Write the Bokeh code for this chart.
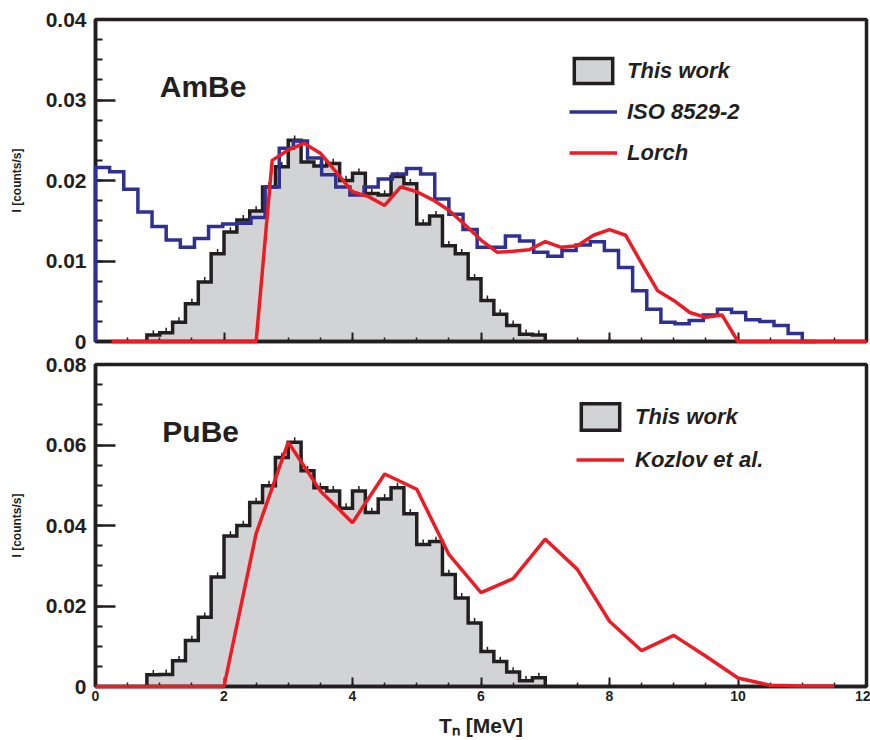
import numpy as np
from bokeh.plotting import figure
from bokeh.layouts import column
from bokeh.models import (Range1d, FixedTicker, CustomJSTickFormatter, Legend,
                          LegendItem, Label)
from bokeh.embed import file_html
from bokeh.resources import INLINE

# ---------------- data ----------------
# AmBe, "This work": histogram, 0.2 MeV bins starting at 0.8 MeV
amb_this_lo = 0.8
amb_this_w = 0.2
amb_this = [0.0008, 0.0011, 0.0024, 0.0047, 0.0074, 0.0109, 0.0136, 0.0151,
            0.0162, 0.0192, 0.0217, 0.0250, 0.0223, 0.0218, 0.0221, 0.0200,
            0.0209, 0.0184, 0.0182, 0.0205, 0.0196, 0.0146, 0.0156, 0.0119,
            0.0109, 0.0078, 0.0051, 0.0034, 0.0020, 0.0009, 0.0008]
amb_err = 0.0006

# AmBe, ISO 8529-2: histogram, 0.22 MeV bins starting at 0
iso_lo = 0.0
iso_w = 0.22
iso = [0.0216, 0.0211, 0.0189, 0.0161, 0.0143, 0.0126, 0.0117, 0.0128,
       0.0143, 0.0146, 0.0147, 0.0154, 0.0192, 0.0240, 0.0249, 0.0228,
       0.0207, 0.0192, 0.0182, 0.0192, 0.0202, 0.0208, 0.0215, 0.0208,
       0.0177, 0.0158, 0.0139, 0.0117, 0.0117, 0.0131, 0.0125, 0.0111,
       0.0106, 0.0113, 0.0120, 0.0124, 0.0113, 0.0092, 0.0063, 0.0040,
       0.0024, 0.0022, 0.0026, 0.0033, 0.0040, 0.0036, 0.0027, 0.0025,
       0.0020, 0.0010, 0.0000]

# AmBe, Lorch: points
lorch_e = [0.25, 0.5, 0.75, 1.0, 1.25, 1.5, 1.75, 2.0, 2.25, 2.5,
           2.75, 3.0, 3.25, 3.5, 3.75, 4.0, 4.25, 4.5, 4.75, 5.0,
           5.25, 5.5, 5.75, 6.0, 6.25, 6.5, 6.75, 7.0, 7.25, 7.5,
           7.75, 8.0, 8.25, 8.5, 8.75, 9.0, 9.25, 9.5, 9.75, 10.0,
           10.25, 10.5, 10.75, 11.0, 11.25, 11.5, 11.75, 12.0]
lorch = [0, 0, 0, 0, 0, 0, 0, 0, 0, 0,
         0.0225, 0.0238, 0.0246, 0.0234, 0.0210, 0.0186, 0.0180, 0.0169, 0.0192, 0.0186,
         0.0176, 0.0163, 0.0145, 0.0126, 0.0111, 0.0112, 0.0114, 0.0124, 0.0117, 0.0119,
         0.0132, 0.0139, 0.0132, 0.0097, 0.0063, 0.0051, 0.0036, 0.0030, 0.0033, 0,
         0, 0, 0, 0, 0, 0, 0, 0]

# PuBe, "This work": histogram, 0.2 MeV bins starting at 0.8 MeV
pub_this_lo = 0.8
pub_this_w = 0.2
pub_this = [0.0029, 0.0030, 0.0064, 0.0114, 0.0172, 0.0272, 0.0374, 0.0400,
            0.0457, 0.0499, 0.0569, 0.0607, 0.0536, 0.0494, 0.0486, 0.0443,
            0.0486, 0.0432, 0.0466, 0.0494, 0.0429, 0.0353, 0.0360, 0.0278,
            0.0220, 0.0158, 0.0087, 0.0062, 0.0036, 0.0014, 0.0022]
pub_err = 0.0012

# PuBe, Kozlov et al.: points
kozlov_e = [0, 0.5, 1.0, 1.5, 2.0, 2.5, 3.0, 3.5, 4.0, 4.5, 5.0, 5.5,
            6.0, 6.5, 7.0, 7.5, 8.0, 8.5, 9.0, 9.5, 10.0, 10.5, 11.0, 11.5]
kozlov = [0, 0, 0, 0, 0, 0.0380, 0.0607, 0.0486, 0.0407, 0.0528, 0.0490, 0.0328,
          0.0233, 0.0268, 0.0366, 0.0291, 0.0162, 0.0089, 0.0127, 0.0075, 0.0021,
          0.0003, 0.0001, 0.0001]

x_ticks = [0, 2, 4, 6, 8, 10, 12]
top_y_ticks = [0, 0.01, 0.02, 0.03, 0.04]
bot_y_ticks = [0, 0.02, 0.04, 0.06, 0.08]

# ---------------- styling ----------------
FONT = "'Liberation Sans', Arial, sans-serif"
NARROW = "'Liberation Sans Narrow', 'Liberation Sans', Arial, sans-serif"
GRAY = "#d1d3d4"
BLUE = "#2e3192"
RED = "#ed1c24"
BLACK = "#231f20"


def outline(lo, w, vals):
    vals = np.asarray(vals, dtype=float)
    edges = lo + w * np.arange(len(vals) + 1)
    xs = np.repeat(edges, 2)
    ys = np.concatenate([[0.0], np.repeat(vals, 2), [0.0]])
    return xs, ys


def centers(lo, w, vals):
    vals = np.asarray(vals, dtype=float)
    return lo + w * (np.arange(len(vals)) + 0.5), vals


def make_fig(ymax, yticks, yminor, top, bottom, show_xlabels):
    p = figure(frame_width=771, frame_height=322,
               x_range=Range1d(0, 12), y_range=Range1d(0, ymax),
               output_backend="svg", toolbar_location=None,
               min_border_left=95, min_border_right=4,
               min_border_top=top, min_border_bottom=bottom)
    p.xgrid.visible = False
    p.ygrid.visible = False
    p.outline_line_color = BLACK
    p.outline_line_width = 3.5
    p.outline_line_alpha = 1
    p.background_fill_color = "white"
    p.border_fill_color = "white"

    xa = p.xaxis[0]
    xa.ticker = FixedTicker(ticks=x_ticks, minor_ticks=list(np.arange(0, 12.01, 0.5)))
    xa.axis_line_width = 3.5
    xa.axis_line_color = BLACK
    xa.major_tick_in = 9
    xa.major_tick_out = 0
    xa.minor_tick_in = 4
    xa.minor_tick_out = 0
    xa.major_tick_line_width = 2
    xa.minor_tick_line_width = 1.5
    xa.major_tick_line_color = BLACK
    xa.minor_tick_line_color = BLACK
    if show_xlabels:
        xa.major_label_text_font = NARROW
        xa.major_label_text_font_style = "bold"
        xa.major_label_text_font_size = "14px"
        xa.major_label_text_color = BLACK
        xa.major_label_standoff = 4
        xa.axis_label = "T\u2099 [MeV]"
        xa.axis_label_text_font = FONT
        xa.axis_label_text_font_style = "bold"
        xa.axis_label_text_font_size = "21px"
        xa.axis_label_text_color = BLACK
        xa.axis_label_standoff = 10
    else:
        xa.formatter = CustomJSTickFormatter(code="return '';")
        xa.major_label_standoff = 0

    ya = p.yaxis[0]
    ya.ticker = FixedTicker(ticks=yticks, minor_ticks=yminor)
    ya.formatter = CustomJSTickFormatter(code="return tick == 0 ? '0' : tick.toFixed(2);")
    ya.axis_line_width = 3.5
    ya.axis_line_color = BLACK
    ya.major_tick_in = 20
    ya.major_tick_out = 0
    ya.minor_tick_in = 7
    ya.minor_tick_out = 0
    ya.major_tick_line_width = 2.5
    ya.minor_tick_line_width = 2
    ya.major_tick_line_color = BLACK
    ya.minor_tick_line_color = BLACK
    ya.major_label_text_font = FONT
    ya.major_label_text_font_style = "bold"
    ya.major_label_text_font_size = "21px"
    ya.major_label_text_color = BLACK
    ya.major_label_standoff = 9
    ya.axis_label = "I [counts/s]"
    ya.axis_label_text_font = FONT
    ya.axis_label_text_font_style = "bold"
    ya.axis_label_text_font_size = "12px"
    ya.axis_label_text_color = BLACK
    ya.axis_label_standoff = 19
    return p


def style_legend(leg, gh, sp, loc, standoff):
    leg.location = loc
    leg.glyph_width = 48
    leg.glyph_height = gh
    leg.spacing = sp
    leg.padding = 0
    leg.margin = 0
    leg.label_standoff = standoff
    leg.border_line_alpha = 0
    leg.background_fill_alpha = 0
    leg.label_text_font = FONT
    leg.label_text_font_style = "bold italic"
    leg.label_text_font_size = "22px"
    leg.label_text_color = BLACK


# ---------------- top panel: AmBe ----------------
p1 = make_fig(0.04, top_y_ticks, list(np.arange(0, 0.0401, 0.0025)), 19, 12, False)

xs, ys = outline(amb_this_lo, amb_this_w, amb_this)
r_this1 = p1.patch(xs, ys, fill_color=GRAY, line_color=BLACK, line_width=3.5,
                   line_join="miter")
cx, cy = centers(amb_this_lo, amb_this_w, amb_this)
p1.segment(x0=cx, y0=cy, x1=cx, y1=cy + amb_err, line_color=BLACK, line_width=1.5)

xs, ys = outline(iso_lo, iso_w, iso)
r_iso = p1.line(xs, ys, line_color=BLUE, line_width=3.5, line_join="miter", level="overlay")
r_lorch = p1.line(lorch_e, lorch, line_color=RED, line_width=3.5, level="overlay")

leg1 = Legend(items=[LegendItem(label="This work", renderers=[r_this1]),
                     LegendItem(label="ISO 8529-2", renderers=[r_iso]),
                     LegendItem(label="Lorch", renderers=[r_lorch])])
style_legend(leg1, 31, 10, (474, 173), 10)
p1.add_layout(leg1)

p1.add_layout(Label(x=1.0, y=0.0317, text="AmBe", text_font=FONT,
                    text_font_style="bold", text_font_size="30px",
                    text_color=BLACK, text_baseline="alphabetic"))

# ---------------- bottom panel: PuBe ----------------
p2 = make_fig(0.08, bot_y_ticks, list(np.arange(0, 0.0801, 0.005)), 11, 54, True)

xs, ys = outline(pub_this_lo, pub_this_w, pub_this)
r_this2 = p2.patch(xs, ys, fill_color=GRAY, line_color=BLACK, line_width=3.5,
                   line_join="miter")
cx, cy = centers(pub_this_lo, pub_this_w, pub_this)
p2.segment(x0=cx, y0=cy, x1=cx, y1=cy + pub_err, line_color=BLACK, line_width=1.5)

r_koz = p2.line(kozlov_e, kozlov, line_color=RED, line_width=3.5, level="overlay")

leg2 = Legend(items=[LegendItem(label="This work", renderers=[r_this2]),
                     LegendItem(label="Kozlov et al.", renderers=[r_koz])])
style_legend(leg2, 33, 10, (481, 210), 11)
p2.add_layout(leg2)

p2.add_layout(Label(x=1.04, y=0.0633, text="PuBe", text_font=FONT,
                    text_font_style="bold", text_font_size="30px",
                    text_color=BLACK, text_baseline="alphabetic"))

layout = column(p1, p2, spacing=0)
open("out.html", "w").write(file_html(layout, INLINE))
